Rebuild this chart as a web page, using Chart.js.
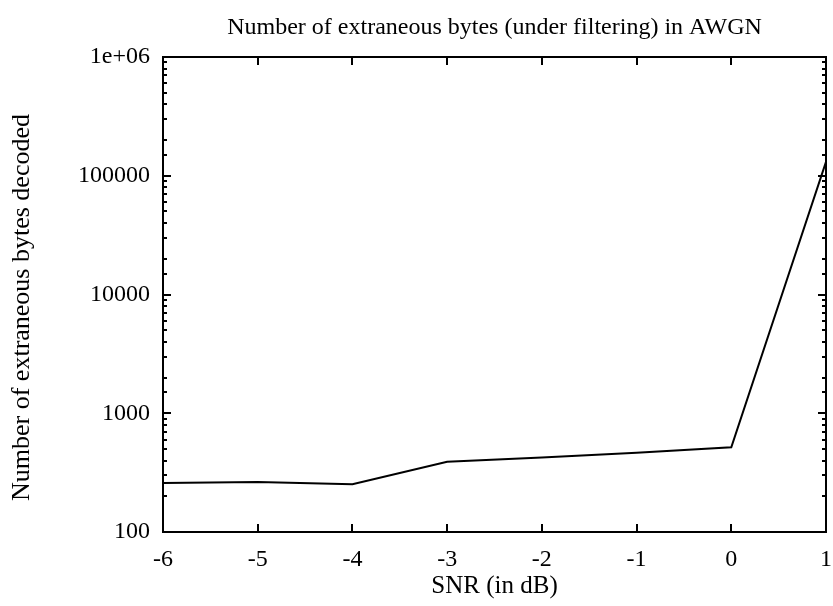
<!DOCTYPE html>
<html>
<head>
<meta charset="utf-8">
<script src="https://cdn.jsdelivr.net/npm/chart.js@4/dist/chart.umd.min.js"></script>
<style>
  body { margin: 0; background: #fff; }
  canvas { display: block; }
</style>
</head>
<body>
<canvas id="myChart" width="833" height="606"></canvas>
<script>
// values
var snr = [-6, -5, -4, -3, -2, -1, 0, 1];
var extraBytes = [259, 264, 253, 391, 425, 466, 517, 131000];
var yMajor = [100, 1000, 10000, 100000, 1000000];
var yMajorLabels = ['100', '1000', '10000', '100000', '1e+06'];

var FONT = "'Liberation Serif', 'Times New Roman', serif";
Chart.defaults.font.family = FONT;
Chart.defaults.color = '#000';

var points = snr.map(function (x, i) { return { x: x, y: extraBytes[i] }; });

// gnuplot style frame with inward ticks on all four sides
var framePlugin = {
  id: 'frame',
  afterDatasetsDraw: function (chart) {
    var ctx = chart.ctx, a = chart.chartArea;
    var xs = chart.scales.x, ys = chart.scales.y;
    ctx.save();
    ctx.strokeStyle = '#000';
    ctx.lineWidth = 2;
    ctx.strokeRect(a.left, a.top, a.right - a.left, a.bottom - a.top);
    ctx.beginPath();
    xs.ticks.forEach(function (t) {
      var px = Math.round(xs.getPixelForValue(t.value));
      ctx.moveTo(px, a.bottom); ctx.lineTo(px, a.bottom - 8);
      ctx.moveTo(px, a.top); ctx.lineTo(px, a.top + 8);
    });
    ys.ticks.forEach(function (t) {
      var lg = Math.log10(t.value);
      var len = Math.abs(lg - Math.round(lg)) < 1e-9 ? 8 : 4;
      var py = Math.round(ys.getPixelForValue(t.value));
      ctx.moveTo(a.left, py); ctx.lineTo(a.left + len, py);
      ctx.moveTo(a.right, py); ctx.lineTo(a.right - len, py);
    });
    ctx.stroke();
    ctx.restore();
  }
};

var ctx = document.getElementById('myChart').getContext('2d');
var myChart = new Chart(ctx, {
  type: 'line',
  data: {
    datasets: [{
      data: points,
      borderColor: '#000',
      borderWidth: 2,
      pointRadius: 0,
      tension: 0,
      fill: false
    }]
  },
  options: {
    responsive: false,
    animation: false,
    layout: { padding: { left: 0, right: 7, top: 0, bottom: 0 } },
    plugins: {
      legend: { display: false },
      tooltip: { enabled: false },
      title: {
        display: true,
        fullSize: false, // centre over the plot area like gnuplot
        text: 'Number of extraneous bytes (under filtering) in AWGN',
        font: { family: FONT, size: 24, weight: 'normal' },
        color: '#000',
        padding: { top: 13.6, bottom: 14.6 }
      }
    },
    scales: {
      x: {
        type: 'linear',
        min: -6,
        max: 1,
        grid: { display: false, drawTicks: false },
        border: { display: false },
        ticks: { stepSize: 1, padding: 13, font: { size: 24 }, color: '#000' },
        title: {
          display: true,
          text: 'SNR (in dB)',
          font: { size: 25 },
          color: '#000',
          padding: { top: 0, bottom: 5 }
        },
        afterFit: function (scale) {
          scale.height = 74;
          scale.paddingLeft = 0;
          scale.paddingRight = 0;
        }
      },
      y: {
        type: 'logarithmic',
        min: 100,
        max: 1000000,
        grid: { display: false, drawTicks: false },
        border: { display: false },
        ticks: {
          autoSkip: false,
          padding: 13,
          font: { size: 24 },
          color: '#000',
          callback: function (value) {
            var i = yMajor.indexOf(value);
            return i >= 0 ? yMajorLabels[i] : '';
          }
        },
        title: {
          display: true,
          // trailing spaces nudge the centred text down a little, as in the original
          text: 'Number of extraneous bytes decoded    ',
          font: { size: 26 },
          color: '#000',
          padding: { top: 6.4, bottom: 0 }
        },
        afterFit: function (scale) { scale.width = 163; }
      }
    }
  },
  plugins: [framePlugin]
});
</script>
</body>
</html>
